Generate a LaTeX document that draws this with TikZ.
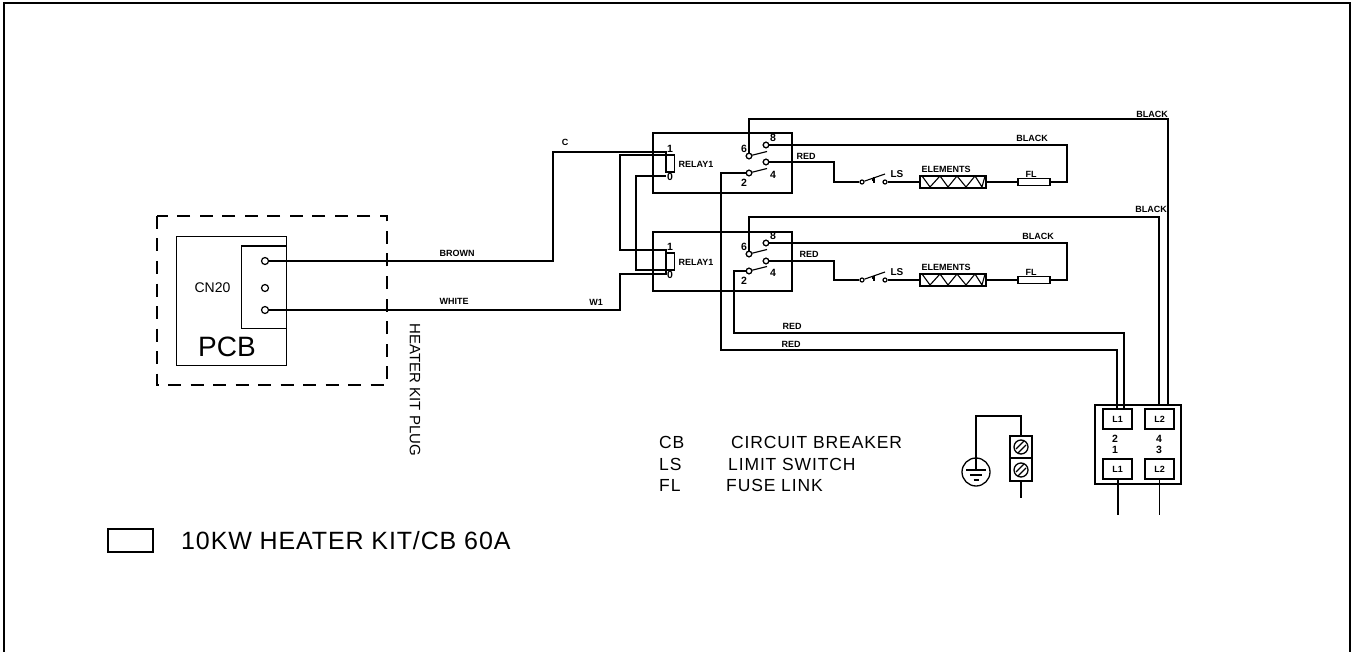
\documentclass[tikz,border=0pt]{standalone}
\usepackage{fontspec}
\setmainfont{Liberation Sans}
\newfontfamily\lspa[LetterSpace=5]{Liberation Sans}
\newfontfamily\lspb[LetterSpace=3.5]{Liberation Sans}
\newcommand{\sz}[1]{\fontsize{#1}{#1}\selectfont}
\tikzset{
  wire/.style={draw=black,line width=1.5pt,line join=miter},
  term/.style={circle,draw=black,line width=1.2pt,fill=white,inner sep=0pt,minimum size=5.5pt},
  pin/.style={circle,draw=black,line width=1.2pt,fill=white,inner sep=0pt,minimum size=7pt},
  tiny/.style={inner sep=0pt,font=\bfseries\sz{9}},
  digit/.style={inner sep=0pt,font=\bfseries\sz{10.5}},
  bigt/.style={inner sep=0pt,anchor=west,font=\lspa\sz{17.5}},
  rectn/.style={draw=black,line width=1.8pt,fill=white,inner sep=0pt,outer sep=0pt,anchor=north west},
}
\begin{document}
\begin{tikzpicture}[x=1pt,y=-1pt]
\useasboundingbox (0,0) rectangle (1359,652);
\fill[white] (0,0) rectangle (1359,652);
% frame
\draw[line width=1.6pt] (4,652) -- (4,3) -- (1350,3) -- (1350,652);
% plug
\draw[line width=1.5pt,dash pattern=on 13pt off 9.5pt] (157,216) rectangle (387,385);
\node[rectn,minimum width=110pt,minimum height=129pt,fill=none,line width=0.9pt] (pcb) at (176,236) {};
\node[rectn,minimum width=45pt,minimum height=82pt,fill=none,line width=0.9pt] (cn) at (241,246) {};
\draw[line width=1.5pt] (241,246) -- (286,246);
\node[pin] (p1) at (265,261) {};
\node[pin] (p2) at (265,288) {};
\node[pin] (p3) at (265,310) {};
\node[inner sep=0pt,font=\sz{14}] (cn20) at (212.5,288) {CN20};
\node[inner sep=0pt,font=\sz{28}] (pcbt) at (227,347) {PCB};
\node[inner sep=0pt,font=\sz{15},rotate=-90] (hk) at (415,390) {HEATER KIT PLUG};
% relay boxes
\node[rectn,minimum width=139pt,minimum height=60pt,fill=none] (r1) at (653,133) {};
\node[rectn,minimum width=139pt,minimum height=59pt,fill=none] (r2) at (653,232) {};
\node[rectn,minimum width=8.5pt,minimum height=17pt] (c1) at (666,155) {};
\node[rectn,minimum width=8.5pt,minimum height=17pt] (c2) at (666,253) {};
% contacts
\node[term] (a6) at (749,156) {};
\node[term] (a8) at (766,145) {};
\node[term] (a2) at (749,173) {};
\node[term] (a4) at (766,162) {};
\node[term] (b6) at (749,254) {};
\node[term] (b8) at (766,243) {};
\node[term] (b2) at (749,271) {};
\node[term] (b4) at (766,261) {};
\foreach \n/\x/\y in {a6/749/156,a2/749/173,b6/749/254,b2/749/271}
  \draw[line width=1.2pt] (\n) -- (\x+18,\y-4.5);
% terminal block
\node[rectn,minimum width=86pt,minimum height=79pt,fill=none] (cb) at (1095,405) {};
\node[rectn,minimum width=29pt,minimum height=20pt] (l1t) at (1103,409) {};
\node[rectn,minimum width=29pt,minimum height=20pt] (l2t) at (1145,409) {};
\node[rectn,minimum width=29pt,minimum height=20pt] (l1b) at (1103,459) {};
\node[rectn,minimum width=29pt,minimum height=20pt] (l2b) at (1145,459) {};
\foreach \n/\t in {l1t/L1,l2t/L2,l1b/L1,l2b/L2}
  \node[tiny] at (\n) {\t};
\node[digit] (n2) at (1115,439) {2};
\node[digit] (n1) at (1115,450) {1};
\node[digit] (n4) at (1159,439) {4};
\node[digit] (n3) at (1159,450) {3};
% limit switches, elements, fuses
\foreach \p/\y in {a/182,b/280}{
  \node[term,minimum size=4pt] (\p ls1) at (862,\y) {};
  \node[term,minimum size=4pt] (\p ls2) at (885,\y) {};
  \draw[line width=1.1pt] (\p ls1) -- (885,\y-8);
  \draw[line width=1.1pt] (874,\y-4.5) -- (874,\y+1);
  \draw[line width=1.1pt] (872,\y-2) -- (875,\y-2);
  \node[rectn,minimum width=66pt,minimum height=12pt,fill=none] (\p el) at (920,\y-6) {};
  \draw[line width=1.1pt] (922,\y-6) -- (930,\y+5) -- (940,\y-6) -- (948,\y+5) -- (957,\y-6) -- (966,\y+5) -- (975,\y-6) -- (982,\y+5) -- (985,\y-6);
  \node[rectn,minimum width=32pt,minimum height=7pt] (\p fl) at (1018,\y-3.5) {};
  \draw[wire] (\p ls2) -- (\p el.west);
  \draw[wire] (\p el.east) -- (\p fl.west);
}
% wires
\coordinate (w1a) at (553,261); \coordinate (w1b) at (553,152);
\draw[wire,line width=1.3pt] (p1) -- (w1a) -- (w1b) -- (666,152) -- (c1.north west);
\coordinate (w2a) at (620,310); \coordinate (w2b) at (620,274);
\draw[wire,line width=1.3pt] (p3) -- (w2a) -- (w2b) -- (666,274) -- (c2.south west);
\coordinate (x1) at (620,155); \coordinate (x2) at (620,250);
\draw[wire] (c1.north west) -- (x1) -- (x2) -- (666,250) -- (c2.north west);
\coordinate (y1) at (636,176); \coordinate (y2) at (636,270);
\draw[wire] (c1.south west) ++(0,4) -- (y1) -- (y2) -- (c2.south west);
% contact wires
\coordinate (t6) at (749,119); \coordinate (tr) at (1168,119);
\draw[wire] (a6) -- (t6) -- (tr) -- (1168,405);
\coordinate (t7) at (749,217); \coordinate (tq) at (1159,217);
\draw[wire] (b6) -- (t7) -- (tq) -- (1159,405);
\coordinate (u1) at (1067,145); \coordinate (u2) at (1067,182);
\draw[wire] (a8) -- (u1) -- (u2) -- (afl.east);
\coordinate (v1) at (1067,243); \coordinate (v2) at (1067,280);
\draw[wire] (b8) -- (v1) -- (v2) -- (bfl.east);
\coordinate (r1a) at (834,162); \coordinate (r1b) at (834,182);
\draw[wire] (a4) -- (r1a) -- (r1b) -- (als1);
\coordinate (r2a) at (834,261); \coordinate (r2b) at (834,280);
\draw[wire] (b4) -- (r2a) -- (r2b) -- (bls1);
\coordinate (d1) at (721,173); \coordinate (d2) at (721,350); \coordinate (d3) at (1117,350);
\draw[wire] (a2) -- (d1) -- (d2) -- (d3) -- (1117,409);
\coordinate (e1) at (734,271); \coordinate (e2) at (734,333); \coordinate (e3) at (1124,333);
\draw[wire] (b2) -- (e1) -- (e2) -- (e3) -- (1124,409);
% redraw contact terminals over wires
\foreach \n/\x/\y in {a6/749/156,a8/766/145,a2/749/173,a4/766/162,b6/749/254,b8/766/243,b2/749/271,b4/766/261}
  \node[term] at (\x,\y) {};
\draw[wire,line width=2pt] (l1b.south) -- (l1b.south |- 0,515);
\draw[wire,line width=1.4pt] (l2b.south) -- (l2b.south |- 0,515);
% relay labels
\foreach \p/\dy in {a/0,b/98}{
  \node[tiny] at (696,164+\dy) {RELAY1};
  \node[digit] at (670,149+\dy) {1};
  \node[digit] at (670,177+\dy) {0};
  \node[digit] at (744,149+\dy) {6};
  \node[digit] at (773,138+\dy) {8};
  \node[digit] at (744,183+\dy) {2};
  \node[digit] at (773,175+\dy) {4};
  \node[tiny,font=\bfseries\sz{10}] at (897,174+\dy) {LS};
  \node[tiny] at (946,169+\dy) {ELEMENTS};
  \node[tiny] at (1031,174+\dy) {FL};
}
\node[tiny] (lc) at (565,142) {C};
\node[tiny] (lbr) at (457,253) {BROWN};
\node[tiny] (lwh) at (454,301) {WHITE};
\node[tiny] (lw1) at (596,302) {W1};
\node[tiny] (lr1) at (806,156) {RED};
\node[tiny] (lr2) at (809,254) {RED};
\node[tiny] (lr3) at (792,326) {RED};
\node[tiny] (lr4) at (791,344) {RED};
\node[tiny] (lb1) at (1152,114) {BLACK};
\node[tiny] (lb2) at (1151,209) {BLACK};
\node[tiny] (lb3) at (1032,138) {BLACK};
\node[tiny] (lb4) at (1038,236) {BLACK};
% ground and screws
\coordinate (g1) at (976,416);
\coordinate (g2) at (1021,416);
\node[rectn,minimum width=22pt,minimum height=22pt,fill=none,line width=1.4pt] (s1) at (1010,436) {};
\node[rectn,minimum width=22pt,minimum height=23pt,fill=none,line width=1.4pt] (s2) at (1010,458) {};
\node[circle,draw,line width=1.3pt,inner sep=0pt,minimum size=14pt] (sc1) at (1021,447) {};
\node[circle,draw,line width=1.3pt,inner sep=0pt,minimum size=14pt] (sc2) at (1021,470) {};
\foreach \y in {447,470}{
  \draw[line width=1.1pt] (1016,\y+2) -- (1024,\y-6);
  \draw[line width=1.1pt] (1018,\y+6) -- (1026,\y-2);
}
\node[circle,draw,line width=1.3pt,inner sep=0pt,minimum size=28pt] (gnd) at (976,472) {};
\draw[wire] (976,458) -- (g1) -- (g2) -- (s1.north);
\draw[line width=1.1pt] (976,458) -- (976,470);
\draw[line width=1.1pt] (966,470) -- (986,470);
\draw[line width=1.1pt] (970,475) -- (982,475);
\draw[line width=1.1pt] (973.5,480) -- (978.5,480);
\draw[wire] (s2.south) -- (1021,498);
% legend
\node[bigt] (k1) at (659,442) {CB};
\node[bigt] (k1b) at (731,442) {CIRCUIT BREAKER};
\node[bigt] (k2) at (659,464) {LS};
\node[bigt] (k2b) at (728,464) {LIMIT SWITCH};
\node[bigt] (k3) at (659,485) {FL};
\node[bigt] (k3b) at (726,485) {FUSE LINK};
\node[rectn,minimum width=45pt,minimum height=23pt,fill=none,line width=1.5pt] (kb) at (108,529) {};
\node[bigt,font=\lspb\sz{25}] (kt) at (181,541) {10KW HEATER KIT/CB 60A};
\end{tikzpicture}
\end{document}
